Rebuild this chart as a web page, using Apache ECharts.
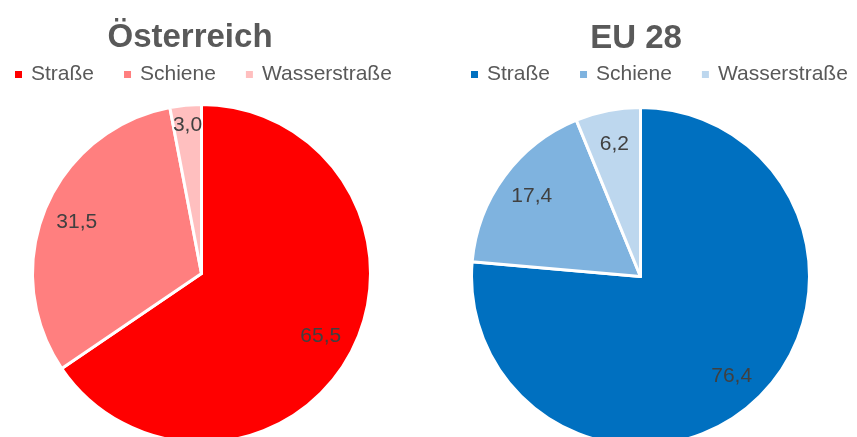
<!DOCTYPE html>
<html>
<head>
<meta charset="utf-8">
<script src="https://cdn.jsdelivr.net/npm/echarts@6/dist/echarts.min.js"></script>
<style>
html, body { margin: 0; padding: 0; background: #fff; }
#container { width: 857px; height: 437px; }
</style>
</head>
<body>
<div id="container"></div>
<script>
var categories = ['Straße', 'Schiene', 'Wasserstraße'];
var austriaValues = [65.5, 31.5, 3.0];
var euValues = [76.4, 17.4, 6.2];
var austriaColors = ['#FF0000', '#FF7F7F', '#FFBFBF'];
var euColors = ['#0070C0', '#7FB3DF', '#BDD7EE'];

var FONT = 'Liberation Sans';
var leftCenter = [201.5, 273.5];
var rightCenter = [640.5, 276.5];

var dom = document.getElementById('container');
var myChart = echarts.init(dom);

function pieData(values, colors) {
    return values.map(function (v, i) {
        return { name: categories[i], value: v, itemStyle: { color: colors[i] } };
    });
}

function labelData(values) {
    return values.map(function (v, i) {
        return { name: categories[i], value: v };
    });
}

function legendData(colors) {
    return categories.map(function (c, i) {
        return { name: c, itemStyle: { color: colors[i] } };
    });
}

// Excel schiebt das Label kleiner Segmente nach außen
function pushSmall(values, center) {
    var total = values.reduce(function (a, b) { return a + b; }, 0);
    return function (p) {
        var r = p.labelRect;
        if (values[p.dataIndex] / total >= 0.05) return {};
        var lx = r.x + r.width / 2, ly = r.y + r.height / 2;
        var dx = lx - center[0], dy = ly - center[1];
        var k = 149 / Math.sqrt(dx * dx + dy * dy);
        return { x: center[0] + dx * k, y: center[1] + dy * k, align: 'center', verticalAlign: 'middle' };
    };
}

function fmt(p) {
    return p.value.toFixed(1).replace('.', ',');
}

function legendOpt(left, colors) {
    return {
        left: left,
        top: 64,
        padding: 0,
        icon: 'rect',
        itemWidth: 9,
        itemHeight: 9,
        itemGap: 28,
        selectedMode: false,
        textStyle: {
            fontFamily: FONT,
            fontSize: 21,
            color: '#595959',
            padding: [0, 0, 0, 3]
        },
        data: legendData(colors)
    };
}

function mainPie(values, colors, center) {
    return {
        type: 'pie',
        center: center,
        radius: 169,
        startAngle: 90,
        clockwise: true,
        silent: true,
        label: { show: false },
        labelLine: { show: false },
        itemStyle: { borderColor: '#fff', borderWidth: 3 },
        data: pieData(values, colors)
    };
}

function labelPie(values, center) {
    return {
        type: 'pie',
        center: center,
        radius: [96, 168],
        startAngle: 90,
        clockwise: true,
        silent: true,
        itemStyle: { color: 'rgba(0,0,0,0)', borderWidth: 0 },
        label: {
            show: true,
            position: 'inside',
            formatter: fmt,
            fontFamily: FONT,
            fontSize: 21,
            color: '#404040'
        },
        labelLine: { show: false },
        labelLayout: pushSmall(values, center),
        data: labelData(values)
    };
}

option = {
    animation: false,
    title: [{
        text: 'Österreich',
        left: 190,
        top: 21,
        padding: 0,
        textAlign: 'center',
        textStyle: { fontFamily: FONT, fontSize: 33, fontWeight: 'bold', color: '#595959' }
    }, {
        text: 'EU 28',
        left: 636,
        top: 22,
        padding: 0,
        textAlign: 'center',
        textStyle: { fontFamily: FONT, fontSize: 33, fontWeight: 'bold', color: '#595959' }
    }],
    legend: [legendOpt(13, austriaColors), legendOpt(469, euColors)],
    series: [
        mainPie(austriaValues, austriaColors, leftCenter),
        mainPie(euValues, euColors, rightCenter),
        labelPie(austriaValues, leftCenter),
        labelPie(euValues, rightCenter)
    ]
};

myChart.setOption(option, true);
</script>
</body>
</html>
